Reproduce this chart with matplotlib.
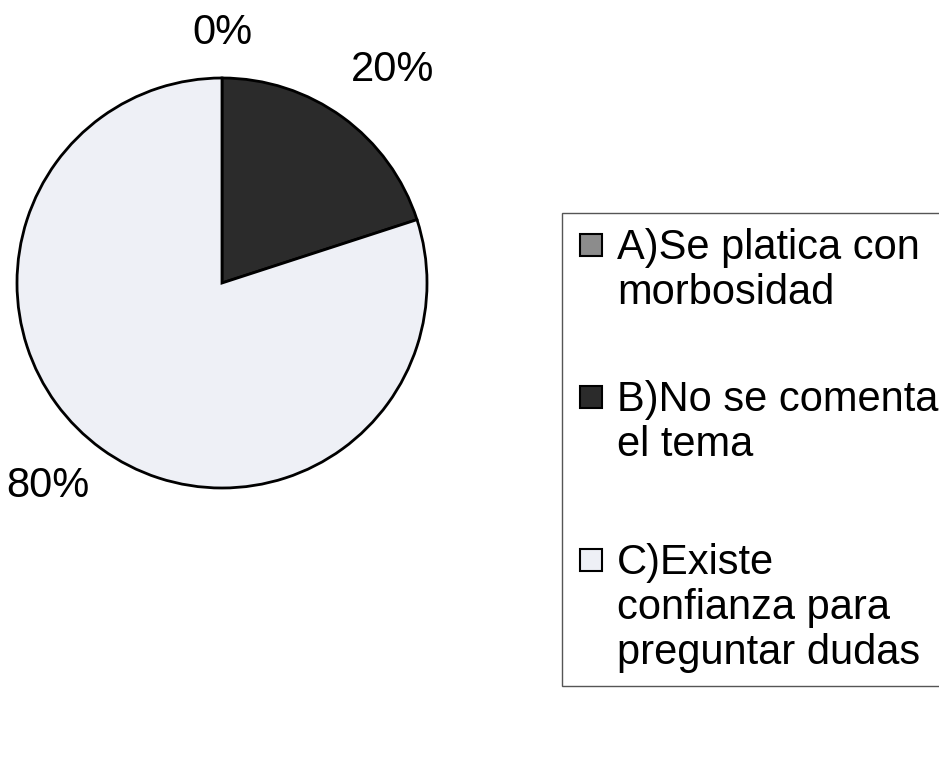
import matplotlib.pyplot as plt
from matplotlib.patches import Rectangle

labels = ['A)Se platica con\nmorbosidad', 'B)No se comenta\nel tema',
          'C)Existe\nconfianza para\npreguntar dudas']
values = [0, 20, 80]
pct_labels = ['0%', '20%', '80%']
colors = ['#8c8c8c', '#2b2b2b', '#eef0f6']

plt.rcParams['font.family'] = ['Liberation Sans', 'DejaVu Sans']

fig = plt.figure(figsize=(9.39, 7.71), dpi=100)
W, H = 939, 771

# pie centred at (222, 283) px, radius 205 px
cx, cy, r = 222, 283, 205
ax = fig.add_axes([(cx - r) / W, 1 - (cy + r) / H, 2 * r / W, 2 * r / H])
wedges, _ = ax.pie(values, colors=colors, startangle=90, counterclock=False,
                   wedgeprops=dict(edgecolor='black', linewidth=2))
ax.set_xlim(-1, 1)
ax.set_ylim(-1, 1)

# percentage labels
pct_pos = [(0.0, 1.22), (0.83, 1.04), (-0.85, -0.99)]
for (x, y), t in zip(pct_pos, pct_labels):
    ax.text(x, y, t, ha='center', va='center', fontsize=30)

# legend box, drawn by hand so markers line up with the first text line
fig.patches.append(Rectangle((562 / W, 1 - 686 / H), 400 / W, 473 / H,
                             transform=fig.transFigure, facecolor='white',
                             edgecolor='#555555', linewidth=1))
tops = [233, 385, 548]
for top, lab, col in zip(tops, labels, colors):
    fig.patches.append(Rectangle((580 / W, 1 - (top + 23) / H), 22 / W, 22 / H,
                                 transform=fig.transFigure, facecolor=col,
                                 edgecolor='black', linewidth=1.5))
    fig.text(617 / W, 1 - (top - 5) / H, lab, ha='left', va='top',
             fontsize=30, linespacing=1.16)

fig.savefig('out.png', dpi=100)
